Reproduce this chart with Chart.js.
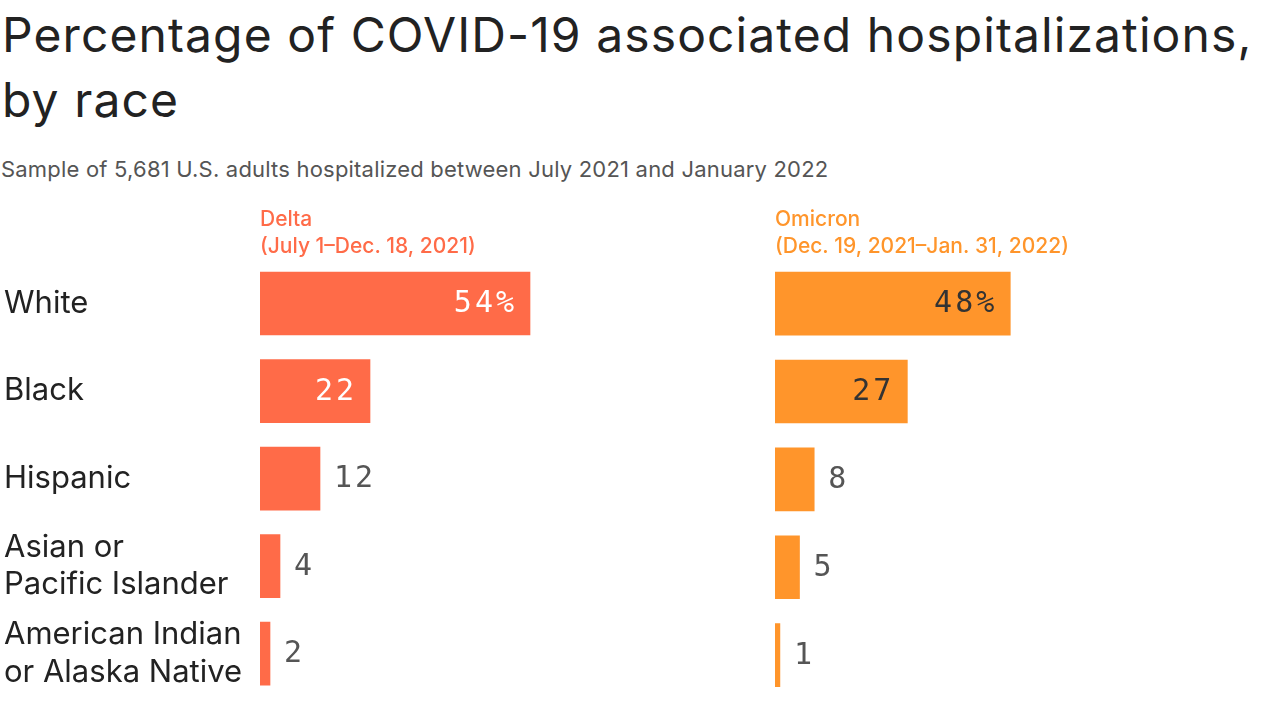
<!DOCTYPE html>
<html>
<head>
<meta charset="utf-8">
<script src="https://cdn.jsdelivr.net/npm/chart.js@4/dist/chart.umd.min.js"></script>
<style>
  body { margin: 0; width: 1280px; height: 719px; background: #fff; overflow: hidden; position: relative; font-family: Inter, Roboto, sans-serif; }
  h1 { position: absolute; left: 2px; top: 2px; margin: 0; font-weight: 400; font-size: 48px; line-height: 65px; color: #222; letter-spacing: 1.1px; }
  .sub { position: absolute; left: 1px; top: 156px; font-size: 22px; color: #555; letter-spacing: 0.2px; }
  .panel { position: absolute; top: 200px; height: 519px; }
  #deltaWrap { left: 0; width: 760px; }
  #omicronWrap { left: 775px; width: 505px; }
</style>
</head>
<body>
<h1>Percentage of COVID-19 associated hospitalizations,<br>by race</h1>
<div class="sub">Sample of 5,681 U.S. adults hospitalized between July 2021 and January 2022</div>
<div class="panel" id="deltaWrap"><canvas id="deltaChart"></canvas></div>
<div class="panel" id="omicronWrap"><canvas id="omicronChart"></canvas></div>
<script>
// Data
const races = ['White', 'Black', 'Hispanic', ['Asian or', 'Pacific Islander'], ['American Indian', 'or Alaska Native']];
const deltaValues = [54, 22, 12, 4, 2];
const omicronValues = [48, 27, 8, 5, 1];
const deltaTitle = ['Delta', '(July 1\u2013Dec. 18, 2021)'];
const omicronTitle = ['Omicron', '(Dec. 19, 2021\u2013Jan. 31, 2022)'];

// Draws the numbers next to / inside each bar
const valueLabels = {
    id: 'valueLabels',
    afterDatasetsDraw(chart, args, opts) {
        const ctx = chart.ctx;
        const meta = chart.getDatasetMeta(0);
        const values = chart.data.datasets[0].data;
        ctx.save();
        ctx.font = '30px "DejaVu Sans Mono", monospace';
        ctx.letterSpacing = '3px';
        ctx.textBaseline = 'middle';
        meta.data.forEach((bar, i) => {
            const v = values[i];
            const text = i === 0 ? v + '%' : String(v);
            if (v >= 20) {
                ctx.textAlign = 'right';
                ctx.fillStyle = opts.inside;
                ctx.fillText(text, bar.x - 13, bar.y + 1);
            } else {
                ctx.textAlign = 'left';
                ctx.fillStyle = '#555';
                ctx.fillText(text, bar.x + 14, bar.y + 1);
            }
        });
        ctx.restore();
    }
};

function makeChart(id, values, color, title, showLabels, xMax, insideColor) {
    return new Chart(document.getElementById(id), {
        type: 'bar',
        data: {
            labels: races,
            datasets: [{ data: values, backgroundColor: color, barThickness: 63 }]
        },
        options: {
            indexAxis: 'y',
            responsive: true,
            maintainAspectRatio: false,
            animation: false,
            layout: { padding: { left: showLabels ? 4 : 0, right: showLabels ? 0 : 5, bottom: 20, top: 2 } },
            scales: {
                x: { display: false, min: 0, max: xMax },
                y: {
                    display: showLabels,
                    grid: { display: false },
                    border: { display: false },
                    afterFit(scale) { if (showLabels) scale.width = 256; },
                    ticks: {
                        crossAlign: 'far',
                        color: '#222',
                        font: { family: 'Inter, Roboto, sans-serif', size: 31, lineHeight: 1.2 }
                    }
                }
            },
            plugins: {
                legend: { display: false },
                tooltip: { enabled: false },
                title: {
                    display: true,
                    text: title,
                    align: 'start',
                    fullSize: false,
                    color: color,
                    font: { family: 'Inter, Roboto, sans-serif', size: 21, weight: 500, lineHeight: 1.28 },
                    padding: { top: 4, bottom: 0 }
                },
                valueLabels: { inside: insideColor }
            }
        },
        plugins: [valueLabels]
    });
}

makeChart('deltaChart', deltaValues, '#ff6b48', deltaTitle, true, 100, '#ffffff');
makeChart('omicronChart', omicronValues, '#ff952b', omicronTitle, false, 102, '#333333');
</script>
</body>
</html>
